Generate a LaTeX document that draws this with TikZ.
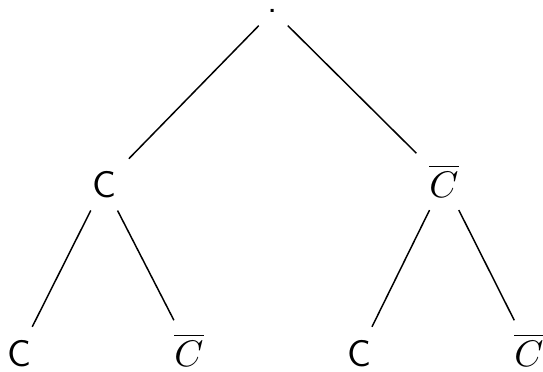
\documentclass[tikz,border=0pt]{standalone}
\usepackage{tikz}
\usetikzlibrary{positioning}
\begin{document}
\begin{tikzpicture}[every node/.style={font=\sffamily}]
                \useasboundingbox (0,0) rectangle (5.1585,3.5245);
                \node (r) at (2.594,3.42) {.};
                \node[anchor=base] (c) at (0.988,1.653) {C};
                \node[anchor=base] (nc) at (4.218,1.653) {$\overline{C}$};
                \node[anchor=base] (cc) at (0.1805,0.0475) {C};
                \node[anchor=base] (cnc) at (1.7955,0.0475) {$\overline{C}$};
                \node[anchor=base] (ncc) at (3.4105,0.0475) {C};
                \node[anchor=base] (ncnc) at (5.0255,0.0475) {$\overline{C}$};
                \draw (r) -- (c);
                \draw (r) -- (nc);
                \draw (c) -- (cc);
                \draw (c) -- (cnc);
                \draw (nc) -- (ncc);
                \draw (nc) -- (ncnc);
            \end{tikzpicture}
\end{document}
